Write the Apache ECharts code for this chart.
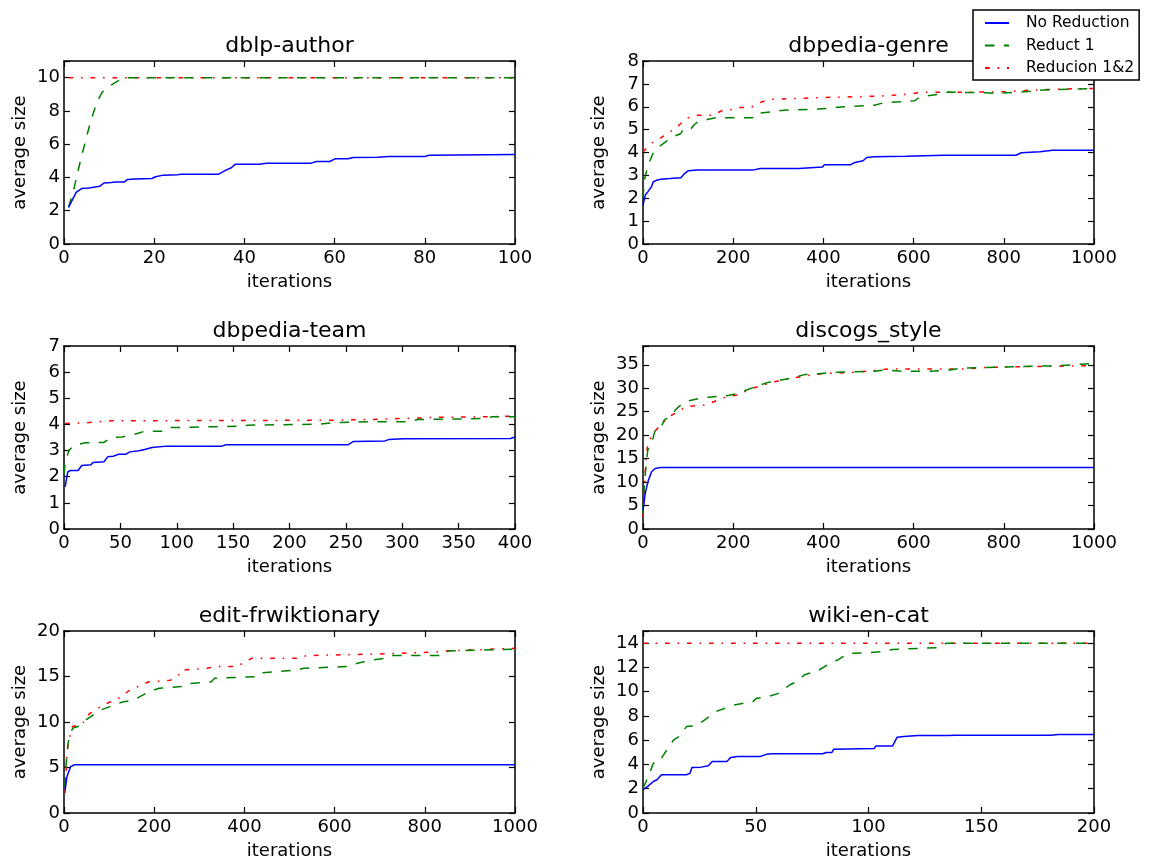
<!DOCTYPE html>
<html><head><meta charset="utf-8">
<script src="https://cdn.jsdelivr.net/npm/echarts@6/dist/echarts.min.js"></script>
<style>html,body{margin:0;padding:0;background:#fff}#c{width:1155px;height:865px}</style>
</head><body><div id="c"></div>
<script>
// ---------- chart meta ----------
const titles = ['dblp-author','dbpedia-genre','dbpedia-team','discogs_style','edit-frwiktionary','wiki-en-cat'];
const xMax  = [100, 1000, 400, 1000, 1000, 200];
const xStep = [20, 200, 50, 200, 200, 50];
const yMax  = [11, 8, 7, 39, 20, 15];
const yStep = [2, 1, 1, 5, 5, 2];
const seriesNames = ['No Reduction','Reduct 1','Reducion 1&2'];
const xLabel = 'iterations';
const yLabel = 'average size';

// ---------- data: [iteration, average size] ----------
const dblpNone = [[1,2.2],[2.7,3.1],[3.9,3.33],[5.6,3.37],[7.9,3.47],[8.9,3.67],[10.5,3.69],[11.3,3.73],[13.4,3.73],[14.1,3.88],[15.8,3.9],[19.5,3.94],[20.3,4.04],[22,4.14],[25.2,4.16],[26,4.2],[34.3,4.2],[35.9,4.44],[37.1,4.58],[38,4.8],[43.3,4.8],[44.9,4.86],[54.8,4.86],[56,4.96],[58.9,4.96],[60.1,5.12],[63,5.12],[64.1,5.2],[69.5,5.22],[72,5.26],[80,5.26],[81,5.34],[100,5.38]];
const dblpR1   = [[1,2.2],[2.3,3.43],[3.5,4.84],[4.8,6.24],[6,7.45],[7.2,8.45],[8.4,9.1],[9.7,9.42],[11.7,9.76],[13.4,10],[100,10]];
const dblpR12  = [[1,10],[100,10]];

const genreNone = [[0,1.69],[4.9,2.13],[10.6,2.28],[18.8,2.5],[22.9,2.72],[31,2.79],[39,2.83],[59.6,2.86],[84,2.9],[92,3.08],[100,3.2],[121,3.23],[243,3.23],[260,3.3],[345,3.3],[349,3.37],[398,3.37],[402,3.46],[460,3.46],[468,3.55],[488,3.64],[496,3.78],[513,3.81],[582,3.84],[668,3.88],[827,3.88],[839,3.99],[880,4.03],[908,4.1],[1000,4.1]];
const genreR1   = [[0,2.0],[3,2.8],[10.6,3.4],[23,4.0],[35,4.25],[55.5,4.54],[68,4.7],[84,4.83],[88,4.98],[104.5,4.98],[113,5.2],[121,5.34],[145,5.45],[162,5.52],[243,5.52],[251,5.71],[284,5.78],[313,5.85],[390,5.9],[447,6.0],[513,6.07],[533,6.17],[602,6.26],[615,6.44],[660,6.55],[676,6.64],[758,6.61],[782,6.58],[839,6.64],[888,6.73],[1000,6.8]];
const genreR12  = [[0,4.03],[10.6,4.25],[27,4.54],[39,4.64],[60,4.9],[72,5.05],[96,5.49],[121,5.63],[153,5.63],[178,5.85],[198,5.88],[211,5.97],[239,5.97],[264,6.22],[284,6.32],[333,6.36],[415,6.41],[480,6.44],[537,6.48],[586,6.54],[619,6.64],[717,6.63],[807,6.66],[864,6.73],[921,6.77],[1000,6.8]];

const teamNone = [[1,1.61],[3.3,2.18],[5.9,2.24],[12.5,2.24],[15.7,2.43],[24,2.46],[25.6,2.54],[35.4,2.57],[38.7,2.76],[43.6,2.78],[48.5,2.86],[55,2.86],[58.4,2.95],[66.6,2.99],[71.5,3.04],[78,3.12],[91,3.17],[140,3.17],[143.6,3.22],[251.8,3.22],[256.7,3.35],[284.6,3.37],[287.9,3.42],[301,3.45],[396,3.46],[400,3.52]];
const teamR1   = [[0,2.1],[1,2.5],[4.3,3.01],[9.2,3.2],[19,3.3],[35.4,3.31],[42,3.5],[51.8,3.52],[58.4,3.59],[65,3.65],[71.5,3.74],[88,3.74],[94.4,3.88],[156.7,3.93],[163,3.97],[225.6,4.01],[238.7,4.07],[271.5,4.1],[304,4.1],[314,4.19],[353,4.21],[370,4.23],[379.7,4.29],[400,4.29]];
const teamR12  = [[1,4.04],[19,4.06],[42,4.14],[238.7,4.16],[271.5,4.19],[304,4.23],[330.5,4.27],[370,4.29],[400,4.32]];

const discogsNone = [[0,4],[4.9,7.55],[10.6,10],[19,12.2],[27,12.9],[39,13.1],[1000,13.1]];
const discogsR1   = [[0,3.3],[2.4,8.3],[6.5,13.3],[10.6,16.8],[19,18.2],[27,21.1],[39,21.5],[47,23.2],[64,24.3],[72,25.4],[88,26.8],[104.5,27.4],[129,27.9],[145,28.1],[186,28.4],[211,28.9],[251,30.4],[276,31.2],[300,31.6],[325,32.1],[358,32.9],[390,33.1],[431,33.4],[513,33.6],[537,33.9],[578,33.6],[627,33.6],[676,33.8],[708,34.3],[758,34.4],[839,34.6],[921,34.8],[1000,35.3]];
const discogsR12  = [[0,2.6],[3.3,9],[6.5,14.7],[10.6,18.2],[23,20.4],[39,22.2],[64,24.3],[72,24.7],[96,26.1],[137,26.4],[186,28.2],[211,28.6],[243,30],[292,31.4],[325,32.1],[358,32.6],[398,33.1],[472,33.4],[545,34.1],[708,34.1],[758,34.4],[839,34.6],[1000,34.8]];

const frwikiNone = [[2.5,2.55],[6.6,4.0],[14.8,5.1],[23,5.3],[1000,5.3]];
const frwikiR1   = [[2.5,2.9],[4.9,5.5],[9,7.7],[18.9,9.3],[31,9.5],[47.5,10.2],[80,11.3],[113,11.9],[129.5,12.2],[154,12.4],[187,13.3],[211,13.7],[260,13.9],[268,14.2],[326,14.4],[334,14.8],[433,15.0],[441,15.4],[514,15.7],[531,15.9],[629,16.1],[646,16.4],[679,16.8],[711,17.0],[728,17.3],[843,17.3],[851,17.8],[925,17.9],[1000,18.0]];
const frwikiR12  = [[2.5,2.2],[6.6,6.6],[10.6,8.0],[18.9,9.5],[39,9.7],[56,10.9],[88.5,11.9],[121,12.6],[146,13.5],[187,14.4],[236,14.6],[252,15.0],[260,15.7],[318,15.9],[334,16.1],[383,16.1],[416,17.0],[515,17.0],[539,17.3],[720,17.5],[826,17.7],[843,17.8],[1000,18.1]];

const wikiNone = [[0,1.92],[2.1,2.2],[4.6,2.6],[6.2,2.74],[8.2,3.15],[19.3,3.15],[20.9,3.29],[21.7,3.75],[25.8,3.78],[29,3.9],[30.7,4.25],[37.2,4.25],[38.9,4.58],[42,4.66],[52,4.66],[55,4.85],[56.8,4.88],[79.7,4.88],[81.3,4.99],[83.8,4.99],[84.6,5.26],[102.5,5.32],[103.3,5.53],[110.7,5.53],[112.7,6.25],[115.6,6.3],[122,6.38],[135.2,6.38],[138.4,6.41],[180.9,6.41],[184.2,6.47],[200,6.47]];
const wikiR1   = [[0,2.05],[2.1,2.88],[4.6,4.1],[7,4.16],[8.7,4.66],[11.1,5.34],[13.6,6.03],[16,6.3],[19.3,7.12],[23.3,7.18],[27.4,7.67],[32.3,8.36],[36.4,8.63],[40.5,8.9],[48.7,9.18],[50.3,9.45],[55.2,9.59],[60.1,9.86],[65,10.55],[68.2,10.82],[71.5,11.37],[78,11.78],[83,12.33],[86.2,12.6],[91.1,13.15],[99.3,13.2],[105.8,13.29],[110.7,13.48],[131.9,13.64],[134.4,14.0],[200,14.0]];
const wikiR12  = [[0,14],[200,14]];

const plotData = [
  [dblpNone, dblpR1, dblpR12],
  [genreNone, genreR1, genreR12],
  [teamNone, teamR1, teamR12],
  [discogsNone, discogsR1, discogsR12],
  [frwikiNone, frwikiR1, frwikiR12],
  [wikiNone, wikiR1, wikiR12]
];

// ---------- styles / layout ----------
const FONT = 'DejaVu Sans';
const colors = ['#0000ff', '#008000', '#ff0000'];
const dashes = ['solid', [9.4, 9.4], [4.7, 7.85, 1.6, 7.85]];
const colLeft = [64, 643];
const plotW = 451;
const rowTop = [61, 346, 631];
const plotH = [183, 183, 182];

const grids = [], xAxes = [], yAxes = [], titleList = [], series = [];
const lineSty = {color:'#000', width:1.5};
const tickSty = {inside:true, length:6, lineStyle:{color:'#000', width:1.2}};

for (let i = 0; i < 6; i++) {
  const col = i % 2, row = Math.floor(i / 2);
  grids.push({left: colLeft[col], top: rowTop[row], width: plotW, height: plotH[row], containLabel:false});
  titleList.push({
    text: titles[i], left: colLeft[col] + plotW / 2, top: rowTop[row] - 26, textAlign:'center', padding:0,
    textStyle:{fontFamily:FONT, fontSize:22, fontWeight:'normal', color:'#000'}
  });
  const xs = xStep[i], ys = yStep[i];
  xAxes.push({
    type:'value', gridIndex:i, min:0, max:xMax[i], interval:xs, position:'bottom',
    name:xLabel, nameLocation:'middle', nameGap:29,
    nameTextStyle:{fontFamily:FONT, fontSize:18, color:'#000'},
    axisLine:{onZero:false, lineStyle:lineSty}, axisTick:tickSty,
    axisLabel:{margin:5, fontFamily:FONT, fontSize:18, color:'#000',
      formatter: v => (Math.abs(v / xs - Math.round(v / xs)) < 1e-6 ? String(v) : '')},
    splitLine:{show:false}
  });
  xAxes.push({
    type:'value', gridIndex:i, min:0, max:xMax[i], interval:xs, position:'top',
    axisLine:{onZero:false, lineStyle:lineSty}, axisTick:tickSty,
    axisLabel:{show:false}, splitLine:{show:false}
  });
  yAxes.push({
    type:'value', gridIndex:i, min:0, max:yMax[i], interval:ys, position:'left',
    name:yLabel, nameLocation:'middle', nameGap:35, nameRotate:90,
    nameTextStyle:{fontFamily:FONT, fontSize:18, color:'#000'},
    axisLine:{onZero:false, lineStyle:lineSty}, axisTick:tickSty,
    axisLabel:{margin:4, fontFamily:FONT, fontSize:18, color:'#000',
      formatter: v => (Math.abs(v / ys - Math.round(v / ys)) < 1e-6 ? String(v) : '')},
    splitLine:{show:false}
  });
  yAxes.push({
    type:'value', gridIndex:i, min:0, max:yMax[i], interval:ys, position:'right',
    axisLine:{onZero:false, lineStyle:lineSty}, axisTick:tickSty,
    axisLabel:{show:false}, splitLine:{show:false}
  });
  for (let s = 0; s < 3; s++) {
    series.push({
      type:'line', name:seriesNames[s], xAxisIndex:2 * i, yAxisIndex:2 * i,
      data:plotData[i][s], symbol:'none', showSymbol:false, smooth:false, silent:true,
      z: 3 - s,
      lineStyle:{color:colors[s], width:1.5, type:dashes[s]},
      itemStyle:{color:colors[s]}
    });
  }
}

const chart = echarts.init(document.getElementById('c'), null, {renderer:'canvas'});
chart.setOption({
  animation:false,
  backgroundColor:'#fff',
  title:titleList,
  grid:grids,
  xAxis:xAxes,
  yAxis:yAxes,
  legend:{
    data:seriesNames, orient:'vertical', left:973, top:10, selectedMode:false,
    backgroundColor:'#fff', borderColor:'#000', borderWidth:1.5,
    padding:[5, 5, 4, 11], itemWidth:24, itemHeight:14, itemGap:6.5,
    itemStyle:{color:'rgba(0,0,0,0)', borderColor:'rgba(0,0,0,0)', borderWidth:0, opacity:0},
    textStyle:{fontFamily:FONT, fontSize:15.5, color:'#000', padding:[0, 0, 0, 12]}
  },
  series:series
});
</script>
</body></html>
